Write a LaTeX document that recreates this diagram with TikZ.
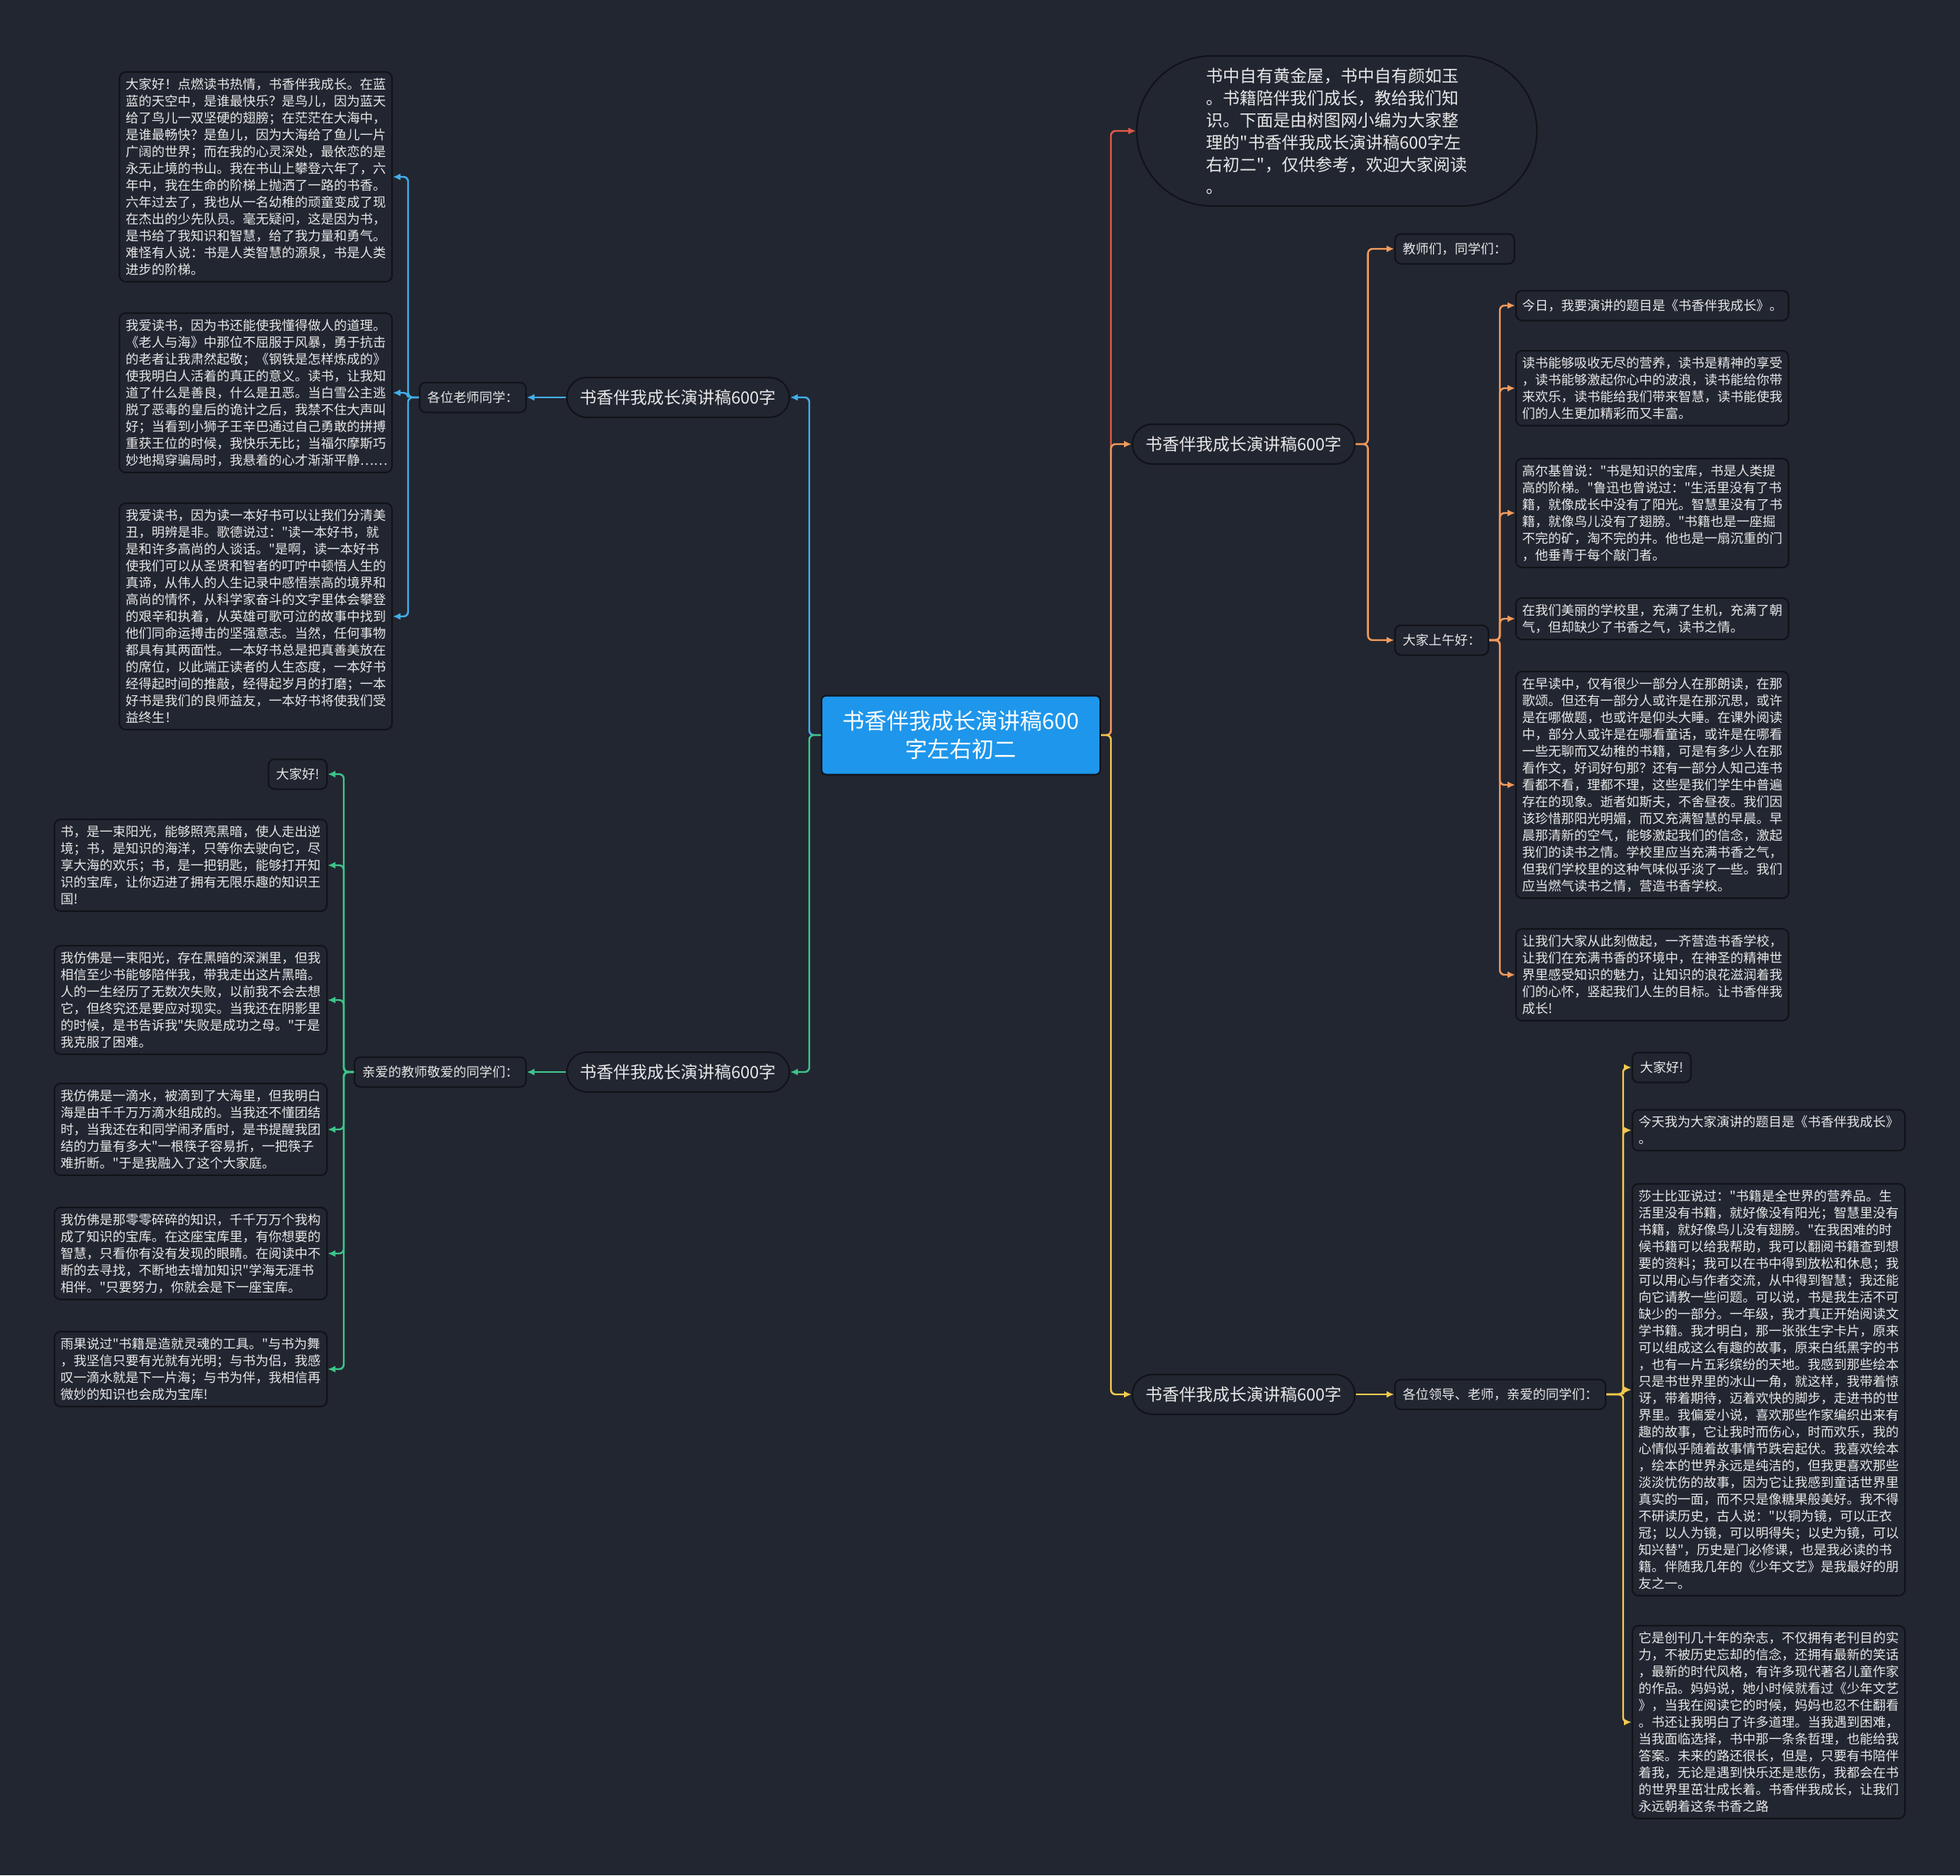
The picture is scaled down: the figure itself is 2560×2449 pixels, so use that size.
\documentclass[tikz,border=0pt]{standalone}
\usepackage{fontspec}
\setmainfont[Ligatures=TeXOff]{Noto Sans CJK SC}
\usetikzlibrary{arrows.meta,positioning,shapes.misc}
\definecolor{MapBg}{HTML}{222631}
\definecolor{BoxLine}{HTML}{111318}
\definecolor{TextLight}{HTML}{E8E8E8}
\definecolor{RootBlue}{HTML}{1E96EB}
\definecolor{LineRed}{HTML}{E05A47}
\definecolor{LineOrange}{HTML}{F39A5B}
\definecolor{LineYellow}{HTML}{F2C94C}
\definecolor{LineBlue}{HTML}{42AEE8}
\definecolor{LineGreen}{HTML}{3DC48A}

\begin{document}
\begin{tikzpicture}[
  x=0.5pt, y=-0.5pt,
  tag/.style={draw=BoxLine, line width=1pt, fill=MapBg, rounded corners=4pt, align=left,
    inner xsep=5pt, inner ysep=4pt, minimum height=19.5pt, text=TextLight,
    font=\fontsize{8.5pt}{11pt}\selectfont},
  leaf/.style={tag, text width=170pt, inner xsep=4pt},
  branch/.style={draw=BoxLine, line width=1pt, fill=MapBg, rounded rectangle,
    minimum width=152pt, minimum height=26pt, text=TextLight,
    font=\fontsize{11pt}{14pt}\selectfont},
  bubble/.style={branch, minimum width=268pt, minimum height=98pt, align=left,
    font=\fontsize{11pt}{14.5pt}\selectfont},
  root/.style={fill=RootBlue, draw=BoxLine, line width=1pt, rounded corners=3pt, align=center,
    minimum width=182pt, minimum height=51.5pt, text=white,
    font=\fontsize{14.5pt}{18.8pt}\selectfont},
  link/.style={line width=1.2pt, rounded corners=3pt, -{Latex[length=5pt,width=4.5pt]}}
]
\fill[MapBg] (0,0) rectangle (2560,2449);

% centre and first level
\node[root] (root) at (1255,960) {书香伴我成长演讲稿600\\字左右初二};
\node[bubble] (intro) at (1746,171) {书中自有黄金屋，书中自有颜如玉\\。书籍陪伴我们成长，教给我们知\\识。下面是由树图网小编为大家整\\理的"书香伴我成长演讲稿600字左\\右初二"，仅供参考，欢迎大家阅读\\。};
\node[branch, anchor=west] (rmid) at (1478,580) {书香伴我成长演讲稿600字};
\node[branch, anchor=west] (rbot) at (1478,1821) {书香伴我成长演讲稿600字};
\node[branch, anchor=east] (ltop) at (1032,519) {书香伴我成长演讲稿600字};
\node[branch, anchor=east] (lbot) at (1032,1400) {书香伴我成长演讲稿600字};

% second level
\node[tag, anchor=east] (ltag) at (688,519) {各位老师同学：};
\node[tag, anchor=east] (lbtag) at (688,1400) {亲爱的教师敬爱的同学们：};
\node[tag, anchor=west] (rtagA) at (1821,325) {教师们，同学们：};
\node[tag, anchor=west] (rtagB) at (1821,836) {大家上午好：};
\node[tag, anchor=west] (rbtag) at (1821,1821) {各位领导、老师，亲爱的同学们：};

% left top leaves
\node[leaf, anchor=east] (b1) at (513,231) {大家好！点燃读书热情，书香伴我成长。在蓝\\蓝的天空中，是谁最快乐？是鸟儿，因为蓝天\\给了鸟儿一双坚硬的翅膀；在茫茫在大海中，\\是谁最畅快？是鱼儿，因为大海给了鱼儿一片\\广阔的世界；而在我的心灵深处，最依恋的是\\永无止境的书山。我在书山上攀登六年了，六\\年中，我在生命的阶梯上抛洒了一路的书香。\\六年过去了，我也从一名幼稚的顽童变成了现\\在杰出的少先队员。毫无疑问，这是因为书，\\是书给了我知识和智慧，给了我力量和勇气。\\难怪有人说：书是人类智慧的源泉，书是人类\\进步的阶梯。};
\node[leaf, anchor=east] (b2) at (513,513) {我爱读书，因为书还能使我懂得做人的道理。\\《老人与海》中那位不屈服于风暴，勇于抗击\\的老者让我肃然起敬；《钢铁是怎样炼成的》\\使我明白人活着的真正的意义。读书，让我知\\道了什么是善良，什么是丑恶。当白雪公主逃\\脱了恶毒的皇后的诡计之后，我禁不住大声叫\\好；当看到小狮子王辛巴通过自己勇敢的拼搏\\重获王位的时候，我快乐无比；当福尔摩斯巧\\妙地揭穿骗局时，我悬着的心才渐渐平静……};
\node[leaf, anchor=east] (b3) at (513,805) {我爱读书，因为读一本好书可以让我们分清美\\丑，明辨是非。歌德说过："读一本好书，就\\是和许多高尚的人谈话。"是啊，读一本好书\\使我们可以从圣贤和智者的叮咛中顿悟人生的\\真谛，从伟人的人生记录中感悟崇高的境界和\\高尚的情怀，从科学家奋斗的文字里体会攀登\\的艰辛和执着，从英雄可歌可泣的故事中找到\\他们同命运搏击的坚强意志。当然，任何事物\\都具有其两面性。一本好书总是把真善美放在\\的席位，以此端正读者的人生态度，一本好书\\经得起时间的推敲，经得起岁月的打磨；一本\\好书是我们的良师益友，一本好书将使我们受\\益终生！};

% left bottom leaves
\node[tag, anchor=east] (g1) at (428,1011) {大家好!};
\node[leaf, anchor=east] (g2) at (428,1130) {书，是一束阳光，能够照亮黑暗，使人走出逆\\境；书，是知识的海洋，只等你去驶向它，尽\\享大海的欢乐；书，是一把钥匙，能够打开知\\识的宝库，让你迈进了拥有无限乐趣的知识王\\国!};
\node[leaf, anchor=east] (g3) at (428,1306) {我仿佛是一束阳光，存在黑暗的深渊里，但我\\相信至少书能够陪伴我，带我走出这片黑暗。\\人的一生经历了无数次失败，以前我不会去想\\它，但终究还是要应对现实。当我还在阴影里\\的时候，是书告诉我"失败是成功之母。"于是\\我克服了困难。};
\node[leaf, anchor=east] (g4) at (428,1475) {我仿佛是一滴水，被滴到了大海里，但我明白\\海是由千千万万滴水组成的。当我还不懂团结\\时，当我还在和同学闹矛盾时，是书提醒我团\\结的力量有多大"一根筷子容易折，一把筷子\\难折断。"于是我融入了这个大家庭。};
\node[leaf, anchor=east] (g5) at (428,1637) {我仿佛是那零零碎碎的知识，千千万万个我构\\成了知识的宝库。在这座宝库里，有你想要的\\智慧，只看你有没有发现的眼睛。在阅读中不\\断的去寻找，不断地去增加知识"学海无涯书\\相伴。"只要努力，你就会是下一座宝库。};
\node[leaf, anchor=east] (g6) at (428,1788) {雨果说过"书籍是造就灵魂的工具。"与书为舞\\，我坚信只要有光就有光明；与书为侣，我感\\叹一滴水就是下一片海；与书为伴，我相信再\\微妙的知识也会成为宝库!};

% right middle leaves
\node[leaf, anchor=west] (o1) at (1979,399) {今日，我要演讲的题目是《书香伴我成长》。};
\node[leaf, anchor=west] (o2) at (1979,507) {读书能够吸收无尽的营养，读书是精神的享受\\，读书能够激起你心中的波浪，读书能给你带\\来欢乐，读书能给我们带来智慧，读书能使我\\们的人生更加精彩而又丰富。};
\node[leaf, anchor=west] (o3) at (1979,670) {高尔基曾说："书是知识的宝库，书是人类提\\高的阶梯。"鲁迅也曾说过："生活里没有了书\\籍，就像成长中没有了阳光。智慧里没有了书\\籍，就像鸟儿没有了翅膀。"书籍也是一座掘\\不完的矿，淘不完的井。他也是一扇沉重的门\\，他垂青于每个敲门者。};
\node[leaf, anchor=west] (o4) at (1979,808) {在我们美丽的学校里，充满了生机，充满了朝\\气，但却缺少了书香之气，读书之情。};
\node[leaf, anchor=west] (o5) at (1979,1025) {在早读中，仅有很少一部分人在那朗读，在那\\歌颂。但还有一部分人或许是在那沉思，或许\\是在哪做题，也或许是仰头大睡。在课外阅读\\中，部分人或许是在哪看童话，或许是在哪看\\一些无聊而又幼稚的书籍，可是有多少人在那\\看作文，好词好句那？还有一部分人知己连书\\看都不看，理都不理，这些是我们学生中普遍\\存在的现象。逝者如斯夫，不舍昼夜。我们因\\该珍惜那阳光明媚，而又充满智慧的早晨。早\\晨那清新的空气，能够激起我们的信念，激起\\我们的读书之情。学校里应当充满书香之气，\\但我们学校里的这种气味似乎淡了一些。我们\\应当燃气读书之情，营造书香学校。};
\node[leaf, anchor=west] (o6) at (1979,1273) {让我们大家从此刻做起，一齐营造书香学校，\\让我们在充满书香的环境中，在神圣的精神世\\界里感受知识的魅力，让知识的浪花滋润着我\\们的心怀，竖起我们人生的目标。让书香伴我\\成长!};

% right bottom leaves
\node[tag, anchor=west] (y1) at (2131,1394) {大家好!};
\node[leaf, anchor=west] (y2) at (2131,1476) {今天我为大家演讲的题目是《书香伴我成长》\\。};
\node[leaf, anchor=west] (y3) at (2131,1815) {莎士比亚说过："书籍是全世界的营养品。生\\活里没有书籍，就好像没有阳光；智慧里没有\\书籍，就好像鸟儿没有翅膀。"在我困难的时\\候书籍可以给我帮助，我可以翻阅书籍查到想\\要的资料；我可以在书中得到放松和休息；我\\可以用心与作者交流，从中得到智慧；我还能\\向它请教一些问题。可以说，书是我生活不可\\缺少的一部分。一年级，我才真正开始阅读文\\学书籍。我才明白，那一张张生字卡片，原来\\可以组成这么有趣的故事，原来白纸黑字的书\\，也有一片五彩缤纷的天地。我感到那些绘本\\只是书世界里的冰山一角，就这样，我带着惊\\讶，带着期待，迈着欢快的脚步，走进书的世\\界里。我偏爱小说，喜欢那些作家编织出来有\\趣的故事，它让我时而伤心，时而欢乐，我的\\心情似乎随着故事情节跌宕起伏。我喜欢绘本\\，绘本的世界永远是纯洁的，但我更喜欢那些\\淡淡忧伤的故事，因为它让我感到童话世界里\\真实的一面，而不只是像糖果般美好。我不得\\不研读历史，古人说："以铜为镜，可以正衣\\冠；以人为镜，可以明得失；以史为镜，可以\\知兴替"，历史是门必修课，也是我必读的书\\籍。伴随我几年的《少年文艺》是我最好的朋\\友之一。};
\node[leaf, anchor=west] (y4) at (2131,2249) {它是创刊几十年的杂志，不仅拥有老刊目的实\\力，不被历史忘却的信念，还拥有最新的笑话\\，最新的时代风格，有许多现代著名儿童作家\\的作品。妈妈说，她小时候就看过《少年文艺\\》，当我在阅读它的时候，妈妈也忍不住翻看\\。书还让我明白了许多道理。当我遇到困难，\\当我面临选择，书中那一条条哲理，也能给我\\答案。未来的路还很长，但是，只要有书陪伴\\着我，无论是遇到快乐还是悲伤，我都会在书\\的世界里茁壮成长着。书香伴我成长，让我们\\永远朝着这条书香之路};

% connectors
\draw[link, draw=LineRed] (root.east) -- ++(13,0) |- (intro.west);
\draw[link, draw=LineOrange] (root.east) -- ++(13,0) |- (rmid.west);
\draw[link, draw=LineYellow] (root.east) -- ++(13,0) |- (rbot.west);
\draw[link, draw=LineBlue] (root.west) -- ++(-15,0) |- (ltop.east);
\draw[link, draw=LineGreen] (root.west) -- ++(-15,0) |- (lbot.east);

\draw[link, draw=LineBlue] (ltop.west) -- (ltag.east);
\draw[link, draw=LineGreen] (lbot.west) -- (lbtag.east);
\draw[link, draw=LineYellow] (rbot.east) -- (rbtag.west);
\foreach \n in {rtagA,rtagB}
  \draw[link, draw=LineOrange] (rmid.east) -- ++(16,0) |- (\n.west);

\foreach \n in {b1,b2,b3}
  \draw[link, draw=LineBlue] (ltag.west) -- ++(-14,0) |- (\n.east);
\foreach \n in {g1,g2,g3,g4,g5,g6}
  \draw[link, draw=LineGreen] (lbtag.west) -- ++(-13,0) |- (\n.east);
\foreach \n in {o1,o2,o3,o4,o5,o6}
  \draw[link, draw=LineOrange] (rtagB.east) -- ++(14,0) |- (\n.west);
\foreach \n in {y1,y2,y3,y4}
  \draw[link, draw=LineYellow] (rbtag.east) -- ++(22,0) |- (\n.west);
\end{tikzpicture}
\end{document}
